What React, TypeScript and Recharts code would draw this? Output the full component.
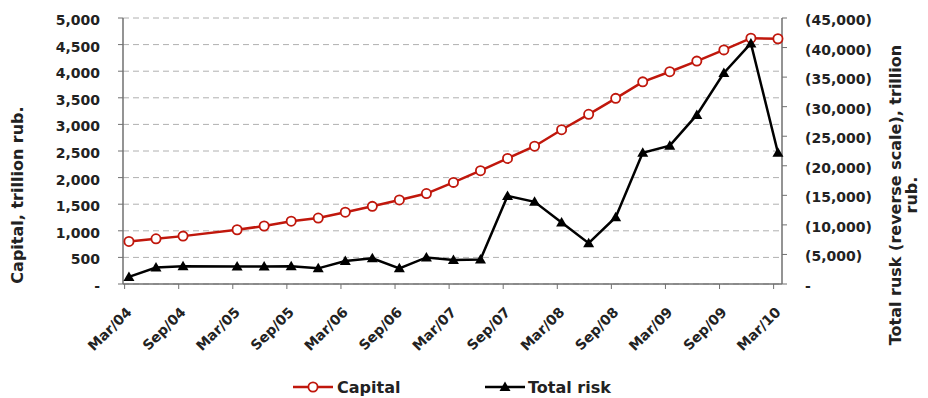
import { LineChart, Line, XAxis, YAxis, CartesianGrid, Legend } from 'recharts'

const PERIODS = [
  'Mar/04', 'Jun/04', 'Sep/04', 'Dec/04', 'Mar/05', 'Jun/05', 'Sep/05', 'Dec/05',
  'Mar/06', 'Jun/06', 'Sep/06', 'Dec/06', 'Mar/07', 'Jun/07', 'Sep/07', 'Dec/07',
  'Mar/08', 'Jun/08', 'Sep/08', 'Dec/08', 'Mar/09', 'Jun/09', 'Sep/09', 'Dec/09', 'Mar/10',
]

// trillion rub.; no reading for Dec/04
const CAPITAL = [
  800, 850, 900, null, 1020, 1090, 1180, 1240,
  1350, 1460, 1580, 1700, 1910, 2130, 2360, 2590,
  2900, 3190, 3490, 3800, 3990, 4190, 4400, 4620, 4610,
]

const TOTAL_RISK = [
  1200, 2800, 3000, null, 2950, 2950, 3000, 2650,
  3900, 4350, 2650, 4500, 4050, 4150, 14900, 13900,
  10400, 6900, 11300, 22200, 23400, 28600, 35700, 40700, 22200,
]

const X_TICK_LABELS = [
  'Mar/04', 'Sep/04', 'Mar/05', 'Sep/05', 'Mar/06', 'Sep/06', 'Mar/07',
  'Sep/07', 'Mar/08', 'Sep/08', 'Mar/09', 'Sep/09', 'Mar/10',
]
const CAPITAL_TICKS = [0, 500, 1000, 1500, 2000, 2500, 3000, 3500, 4000, 4500, 5000]
const RISK_TICKS = [0, 5000, 10000, 15000, 20000, 25000, 30000, 35000, 40000, 45000]

// tick marks sit at the start of the month, points at its end
const TICK_SHIFT = 0.16

const RED = '#c0170c'
const FONT = '"DejaVu Sans", sans-serif'
const AXIS = '#707070'

const data = PERIODS.map((period, i) => ({
  q: i,
  period,
  capital: CAPITAL[i],
  risk: TOTAL_RISK[i],
}))

const xTicks = X_TICK_LABELS.map((l) => PERIODS.indexOf(l) - TICK_SHIFT)

const fmtCapital = (v: number) => (v === 0 ? '-' : v.toLocaleString('en-US'))
const fmtRisk = (v: number) => (v === 0 ? '-' : `(${v.toLocaleString('en-US')})`)

const DateTick = ({ x, y, payload }: any) => {
  const label = PERIODS[Math.round(payload.value)]
  const tx = x + 8
  const ty = y + 22
  return (
    <text
      x={tx}
      y={ty}
      transform={`rotate(-45, ${tx}, ${ty})`}
      textAnchor="end"
      fontFamily={FONT}
      fontSize={14}
      fontWeight={700}
      fill="#222"
    >
      {label}
    </text>
  )
}

const CircleDot = ({ cx, cy, index }: any) => {
  if (cx == null || cy == null) return <g key={`c${index}`} />
  return <circle key={`c${index}`} cx={cx} cy={cy} r={4.6} fill="#fff" stroke={RED} strokeWidth={1.8} />
}

const TriangleDot = ({ cx, cy, index }: any) => {
  if (cx == null || cy == null) return <g key={`t${index}`} />
  return (
    <polygon
      key={`t${index}`}
      points={`${cx},${cy - 5.5} ${cx + 5.5},${cy + 4} ${cx - 5.5},${cy + 4}`}
      fill="#000"
    />
  )
}

const LeftTitle = ({ viewBox }: any) => {
  const x = viewBox.x + 17
  const y = 195
  return (
    <text x={x} y={y} transform={`rotate(-90, ${x}, ${y})`} textAnchor="middle"
      dominantBaseline="central" fontFamily={FONT} fontSize={16} fontWeight={700} fill="#222">
      Capital, trillion rub.
    </text>
  )
}

const RightTitle = ({ viewBox }: any) => {
  const x1 = viewBox.x + 113
  const x2 = viewBox.x + 129
  const y = 195
  const common = {
    textAnchor: 'middle' as const,
    dominantBaseline: 'central' as const,
    fontFamily: FONT,
    fontSize: 16,
    fontWeight: 700,
    fill: '#222',
  }
  return (
    <g>
      <text x={x1} y={y} transform={`rotate(-90, ${x1}, ${y})`} {...common}>
        Total rusk (reverse scale), trillion
      </text>
      <text x={x2} y={y} transform={`rotate(-90, ${x2}, ${y})`} {...common}>
        rub.
      </text>
    </g>
  )
}

const ChartLegend = () => (
  <div style={{ width: 928, height: 24 }}>
    <svg width={928} height={24}>
      <line x1={293} y1={13} x2={333} y2={13} stroke={RED} strokeWidth={2.5} />
      <circle cx={313} cy={13} r={4.6} fill="#fff" stroke={RED} strokeWidth={1.8} />
      <text x={337} y={19} fontFamily={FONT} fontSize={16} fontWeight={700} fill="#222">Capital</text>
      <line x1={485} y1={13} x2={525} y2={13} stroke="#000" strokeWidth={2.5} />
      <polygon points="505,7.5 510.5,17 499.5,17" fill="#000" />
      <text x={528} y={19} fontFamily={FONT} fontSize={16} fontWeight={700} fill="#222">Total risk</text>
    </svg>
  </div>
)

export default function App() {
  return (
    <div style={{ position: 'absolute', left: 0, top: 0, background: '#fff' }}>
      <LineChart width={928} height={398} data={data} margin={{ top: 18, right: 0, bottom: 0, left: 0 }}>
        <CartesianGrid yAxisId="left" vertical={false} stroke="#b0b0b0" strokeDasharray="6 4" />
        <XAxis
          dataKey="q"
          type="number"
          domain={[-0.22, 24.15]}
          ticks={xTicks}
          interval={0}
          height={90}
          tick={<DateTick />}
          tickSize={5}
          axisLine={{ stroke: AXIS, strokeWidth: 1.5 }}
          tickLine={{ stroke: AXIS }}
        />
        <YAxis
          yAxisId="left"
          width={123}
          domain={[0, 5000]}
          ticks={CAPITAL_TICKS}
          interval={0}
          tickFormatter={fmtCapital}
          tickSize={5}
          tickMargin={18}
          tick={{ fontSize: 14, fontWeight: 700, fill: '#222', fontFamily: FONT, dy: 2 }}
          axisLine={{ stroke: AXIS, strokeWidth: 1.5 }}
          tickLine={{ stroke: AXIS }}
          label={<LeftTitle />}
        />
        <YAxis
          yAxisId="right"
          orientation="right"
          width={146}
          domain={[0, 45000]}
          ticks={RISK_TICKS}
          interval={0}
          tickFormatter={fmtRisk}
          tickSize={5}
          tickMargin={18}
          tick={{ fontSize: 14, fontWeight: 700, fill: '#222', fontFamily: FONT, dy: 2 }}
          axisLine={{ stroke: AXIS, strokeWidth: 1.5 }}
          tickLine={{ stroke: AXIS }}
          label={<RightTitle />}
        />
        <Legend verticalAlign="bottom" content={<ChartLegend />} />
        <Line
          yAxisId="left"
          dataKey="capital"
          name="Capital"
          stroke={RED}
          strokeWidth={2.5}
          dot={<CircleDot />}
          connectNulls
          isAnimationActive={false}
        />
        <Line
          yAxisId="right"
          dataKey="risk"
          name="Total risk"
          stroke="#000"
          strokeWidth={2.5}
          dot={<TriangleDot />}
          connectNulls
          isAnimationActive={false}
        />
      </LineChart>
    </div>
  )
}
